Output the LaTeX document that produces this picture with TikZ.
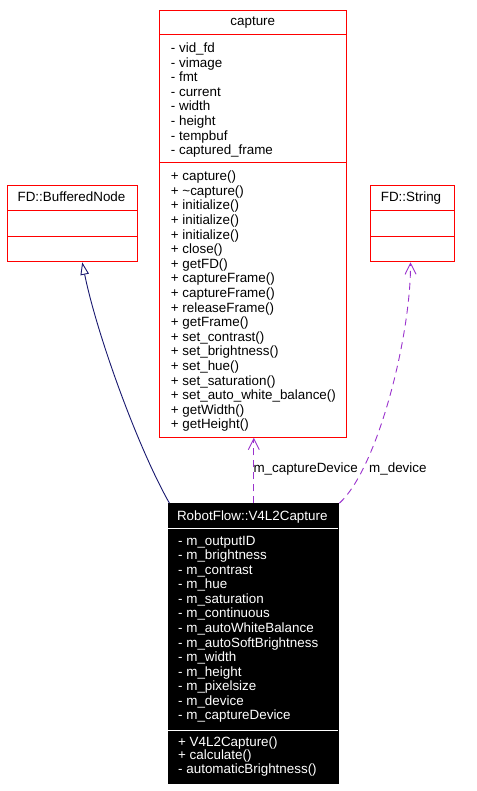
\documentclass[tikz,border=0pt]{standalone}
\usepackage{fontspec}
\setmainfont{Liberation Sans}
\usetikzlibrary{arrows.meta}
\definecolor{umlred}{HTML}{FF0000}
\definecolor{umlpurple}{HTML}{9A32CD}
\definecolor{umlnavy}{HTML}{191970}
\begin{document}
\begin{tikzpicture}[x=1pt,y=-1pt,
  font=\fontsize{13.4}{14.6}\selectfont,
  redbox/.style={draw=umlred, line width=1pt, inner sep=0pt, anchor=north west, rectangle},
  blackbox/.style={draw=black, fill=black, line width=1pt, inner sep=0pt, anchor=north west, rectangle},
  redsep/.style={draw=umlred, line width=1pt},
  whitesep/.style={draw=white, line width=1pt},
  lbl/.style={anchor=base west, inner sep=0pt},
  ttl/.style={anchor=base, inner sep=0pt},
  wlbl/.style={lbl, text=white},
  wttl/.style={ttl, text=white},
  inherit/.style={draw=umlnavy, line width=0.9pt, -{Triangle[open, length=12.5pt, width=8.5pt]}},
  usage/.style={draw=umlpurple, line width=0.9pt, dash pattern=on 7pt off 5pt, -{Straight Barb[length=11pt, width=11pt]}}]
\useasboundingbox (0,0) rectangle (476,791);
\fill[white] (0,0) rectangle (476,791);

% ---- capture ----
\node[redbox, minimum width=187pt, minimum height=427pt] (cap) at (159.3,9.7) {};
\draw[redsep] (159.3,34.3) -- (346.3,34.3);
\draw[redsep] (159.3,162.7) -- (346.3,162.7);
\node[ttl] (captitle) at (252.8,26) {capture};
\foreach \t [count=\i from 0] in {- vid\_fd, - vimage, - fmt, - current, - width, - height, - tempbuf, - captured\_frame}
  \node[lbl] (capa\i) at (170.7,{52.6+14.6*\i}) {\t};
\foreach \t [count=\i from 0] in {+ capture(), + \textasciitilde capture(), + initialize(), + initialize(), + initialize(), + close(), + getFD(), + captureFrame(), + captureFrame(), + releaseFrame(), + getFrame(), + set\_contrast(), + set\_brightness(), + set\_hue(), + set\_saturation(), + set\_auto\_white\_balance(), + getWidth(), + getHeight()}
  \node[lbl] (capm\i) at (170.7,{180.7+14.6*\i}) {\t};

% ---- FD::BufferedNode ----
\node[redbox, minimum width=130pt, minimum height=76pt] (buf) at (7.3,185.3) {};
\draw[redsep] (7.3,210.3) -- (137.3,210.3);
\draw[redsep] (7.3,236.3) -- (137.3,236.3);
\node[ttl] (buftitle) at (71.5,201.7) {FD::BufferedNode};

% ---- FD::String ----
\node[redbox, minimum width=83.4pt, minimum height=76pt] (str) at (370.3,185.3) {};
\draw[redsep] (370.3,210.3) -- (453.7,210.3);
\draw[redsep] (370.3,236.3) -- (453.7,236.3);
\node[ttl] (strtitle) at (411,201.7) {FD::String};

% ---- RobotFlow::V4L2Capture ----
\node[blackbox, minimum width=170pt, minimum height=280pt] (v4l) at (168.3,503.3) {};
\draw[whitesep] (168.3,528.3) -- (338.3,528.3);
\draw[whitesep] (168.3,730) -- (338.3,730);
\node[wttl] (v4ltitle) at (252.3,520) {RobotFlow::V4L2Capture};
\foreach \t [count=\i from 0] in {- m\_outputID, - m\_brightness, - m\_contrast, - m\_hue, - m\_saturation, - m\_continuous, - m\_autoWhiteBalance, - m\_autoSoftBrightness, - m\_width, - m\_height, - m\_pixelsize, - m\_device, - m\_captureDevice}
  \node[wlbl] (v4la\i) at (178,{545+14.58*\i}) {\t};
\node[wlbl] (v4lm0) at (178,746) {+ V4L2Capture()};
\node[wlbl] (v4lm1) at (178,759.7) {+ calculate()};
\node[wlbl] (v4lm2) at (178,773.3) {- automaticBrightness()};

% ---- connectors ----
\draw[inherit] ([xshift=1.2pt]v4l.north west) .. controls (138,448) and (97,335) .. ([xshift=9.4pt]buf.south);
\draw[usage] (v4l.north) -- (v4l.north |- cap.south);
\node[lbl] (lcapdev) at (253.3,472) {m\_captureDevice};
\draw[usage] (v4l.north east) .. controls (378,468) and (411,335) .. ([xshift=-2pt]str.south);
\node[lbl] (ldev) at (369,472) {m\_device};
\end{tikzpicture}
\end{document}
